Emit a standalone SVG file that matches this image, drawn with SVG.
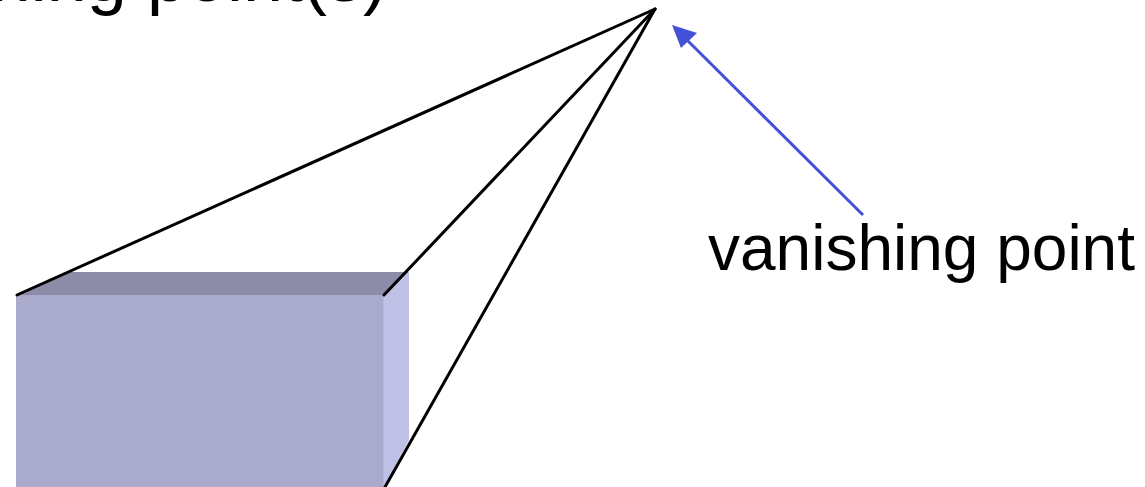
<svg xmlns="http://www.w3.org/2000/svg" width="1145" height="487" viewBox="0 0 1145 487">
<style>
text{font-family:"Liberation Sans",Arial,sans-serif;fill:#000}
.top{font-size:72px}
.lab{font-size:64px}
.l{stroke:#000;stroke-width:3;fill:none;stroke-linecap:round}
</style>
<rect width="1145" height="487" fill="#fff"/>
<g id="box">
<rect x="16" y="295" width="368" height="192" fill="#aaaacc"/>
<polygon points="17,295 68,272 409,272 384,295" fill="#8c8ca9"/>
<polygon points="384,295 409,272 409,440 384,487" fill="#bfc1e6"/>
<line x1="383.500" y1="295" x2="383.500" y2="487" stroke="#b6b7da" stroke-width="1"/>
</g>
<g id="connectors">
<path class="l" d="M17 295L655 9"/>
<path class="l" d="M384 295L655 9"/>
<path class="l" d="M385 487L655 9"/>
<path d="M863 215L686 39" stroke="#4351d8" stroke-width="3" fill="none"/>
<polygon points="672,25 697,33 681,48" fill="#4351d8"/>
</g>
<g id="labels">
<text class="top" x="387" y="1" text-anchor="end">vanishing point(s)</text>
<text class="lab" x="708" y="270">vanishing point</text>
</g>
</svg>
